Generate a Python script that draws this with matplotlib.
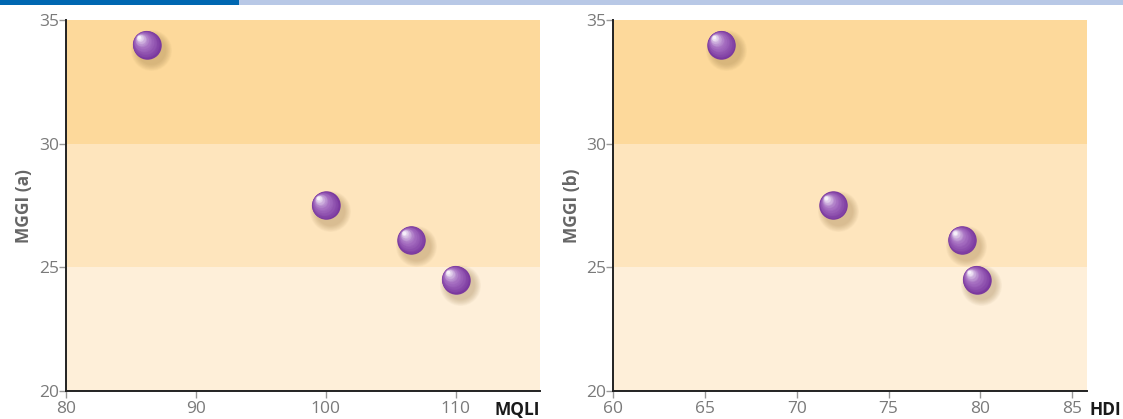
import matplotlib
import numpy as np

matplotlib.use("Agg")
import matplotlib.pyplot as plt
import matplotlib.transforms as mtransforms
from matplotlib.colors import to_rgb

plt.rcParams["font.family"] = ["Open Sans", "DejaVu Sans"]

# data
mggi = [34.0, 27.5, 26.1, 24.5]
mqli = [86.2, 100.0, 106.6, 110.0]
hdi = [65.9, 72.0, 79.0, 79.8]

x_ticks_a = [80, 90, 100, 110]
x_ticks_b = [60, 65, 70, 75, 80, 85]
y_ticks = [20, 25, 30, 35]
bands = [(20, 25), (25, 30), (30, 35)]

BAND_COLORS = ["#feefd9", "#fee5bd", "#fdd99b"]
TICK_GREY = "#7a7a7a"
DOT = 20.5  # marker diameter in points (~28 px)


def sphere(ax, fig, xs, ys):
    """Fake a shaded sphere: blurred shadow, then concentric lighter discs."""
    base = DOT
    # soft shadow down-right
    for k in range(10):
        tr = mtransforms.offset_copy(ax.transData, fig=fig, x=3, y=-4,
                                     units="points")
        ax.scatter(xs, ys, s=(base + 9 - k * 1.0) ** 2, color="#a08050",
                   alpha=0.045, linewidths=0, transform=tr, zorder=3)
    dark = np.array(to_rgb("#7a389e"))
    mid = np.array(to_rgb("#a46cc0"))
    light = np.array(to_rgb("#f6f0fa"))
    n = 20
    for k in range(n):
        t = k / (n - 1)
        d = base * (1 - 0.88 * t)
        if t < 0.5:
            c = dark + (mid - dark) * (t / 0.5)
        else:
            c = mid + (light - mid) * ((t - 0.5) / 0.5) ** 1.3
        off = -0.3 * (base - d)
        tr = mtransforms.offset_copy(ax.transData, fig=fig, x=off, y=-off,
                                     units="points")
        ax.scatter(xs, ys, s=d ** 2, color=c, linewidths=0, transform=tr,
                   zorder=4 + k * 0.01)


def panel(ax, fig, xs, xticks, xlim, ylabel, xlabel, xlabel_x):
    for (lo, hi), c in zip(bands, BAND_COLORS):
        ax.axhspan(lo, hi, color=c, lw=0, zorder=0)
    sphere(ax, fig, xs, mggi)
    ax.set_xlim(*xlim)
    ax.set_ylim(20, 35)
    ax.set_xticks(xticks)
    ax.set_yticks(y_ticks)
    for s in ["top", "right"]:
        ax.spines[s].set_visible(False)
    for s in ["left", "bottom"]:
        ax.spines[s].set_color("#222222")
        ax.spines[s].set_linewidth(1.4)
    ax.tick_params(axis="both", colors="#999999", labelcolor=TICK_GREY,
                   labelsize=12.5, length=5, width=1, pad=0)
    ax.tick_params(axis="x", pad=2)
    ax.set_ylabel(ylabel, fontsize=12.5, fontweight="bold", color="#666666",
                  labelpad=4)
    ax.text(xlabel_x, -0.05, xlabel, transform=ax.transAxes, fontsize=12.5,
            fontweight="bold", color="#1a1a1a", ha="left", va="center")


fig = plt.figure(figsize=(11.23, 4.19), dpi=100)
W, H = 1123, 419
ax1 = fig.add_axes([66 / W, 28 / H, 474 / W, 371 / H])
ax2 = fig.add_axes([613 / W, 28 / H, 474 / W, 371 / H])

panel(ax1, fig, mqli, x_ticks_a, (80, 116.5), "MGGI (a)", "MQLI", 0.905)
panel(ax2, fig, hdi, x_ticks_b, (60, 85.8), "MGGI (b)", "HDI", 1.005)

# header strip
fig.patches.append(plt.Rectangle((0, 1 - 5 / H), 239 / W, 5 / H,
                                 transform=fig.transFigure, color="#0067b1",
                                 lw=0))
fig.patches.append(plt.Rectangle((239 / W, 1 - 5 / H), 1 - 239 / W, 5 / H,
                                 transform=fig.transFigure, color="#b8c8e6",
                                 lw=0))

fig.savefig("out.png", dpi=100)
plt.close()
